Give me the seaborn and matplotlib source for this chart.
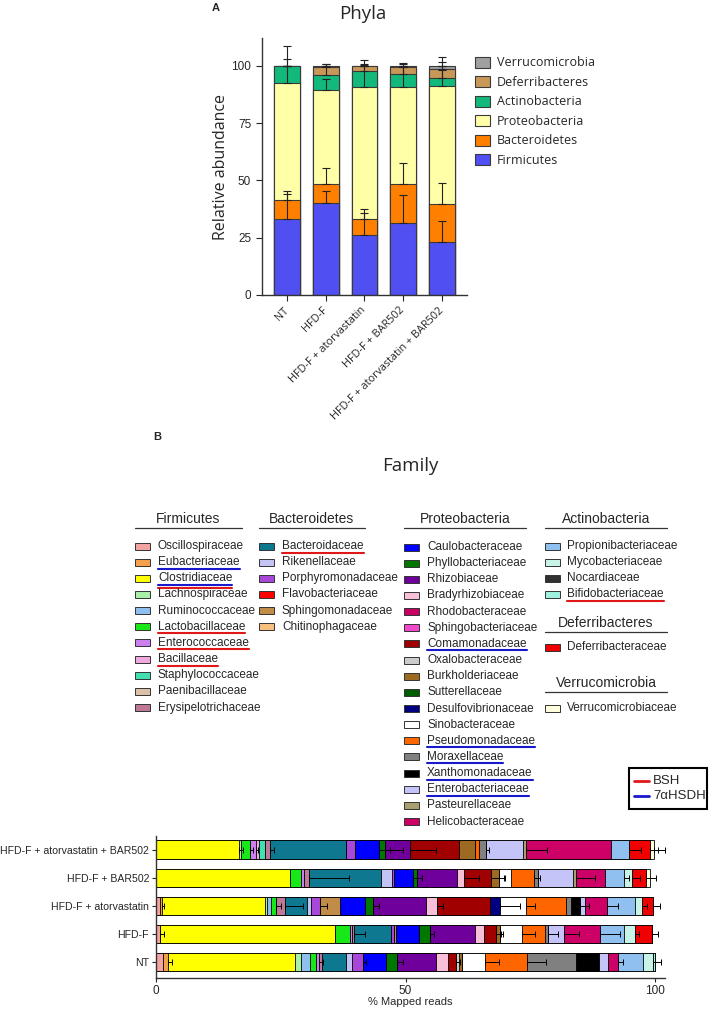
import numpy as np
import pandas as pd
import matplotlib.pyplot as plt
import seaborn as sns
from matplotlib.patches import Rectangle

# ---------------- Panel A: phyla ----------------
groups = ['NT', 'HFD-F', 'HFD-F + atorvastatin', 'HFD-F + BAR502', 'HFD-F + atorvastatin + BAR502']
phyla = ['Firmicutes', 'Bacteroidetes', 'Proteobacteria', 'Actinobacteria', 'Deferribacteres', 'Verrucomicrobia']
firmicutes = [33.0, 40.0, 26.2, 31.2, 23.0]
bacteroidetes = [8.4, 8.3, 6.9, 17.2, 16.7]
proteobacteria = [51.2, 41.1, 57.5, 42.4, 51.4]
actinobacteria = [7.3, 6.8, 7.2, 5.6, 3.7]
deferribacteres = [0.1, 3.4, 2.1, 3.2, 4.0]
verrucomicrobia = [0.0, 0.3, 0.0, 0.3, 1.1]
# upward SD bars drawn from the top of each segment
firmicutes_err = [12.5, 5.3, 11.3, 12.4, 9.3]
bacteroidetes_err = [2.5, 6.9, 2.5, 9.0, 9.3]
proteobacteria_err = [10.6, 4.8, 10.4, 8.8, 7.0]
actinobacteria_err = [8.7, 4.6, 4.9, 4.6, 6.9]
deferribacteres_err = [0.0, 1.2, 0.5, 1.5, 5.1]
verrucomicrobia_err = [0.0, 0.0, 0.0, 0.0, 0.0]
phyla_colors = ['#5050F2', '#FF8000', '#FFFFA8', '#12B97A', '#C89858', '#A0A0A0']

# ---------------- Panel B: families ----------------
families = ['Oscillospiraceae', 'Eubacteriaceae', 'Clostridiaceae', 'Lachnospiraceae', 'Ruminococcaceae',
            'Lactobacillaceae', 'Enterococcaceae', 'Bacillaceae', 'Staphylococcaceae', 'Paenibacillaceae',
            'Erysipelotrichaceae',
            'Bacteroidaceae', 'Rikenellaceae', 'Porphyromonadaceae', 'Flavobacteriaceae', 'Sphingomonadaceae',
            'Chitinophagaceae',
            'Caulobacteraceae', 'Phyllobacteriaceae', 'Rhizobiaceae', 'Bradyrhizobiaceae', 'Rhodobacteraceae',
            'Sphingobacteriaceae', 'Comamonadaceae', 'Oxalobacteraceae', 'Burkholderiaceae', 'Sutterellaceae',
            'Desulfovibrionaceae', 'Sinobacteraceae', 'Pseudomonadaceae', 'Moraxellaceae', 'Xanthomonadaceae',
            'Enterobacteriaceae', 'Pasteurellaceae', 'Helicobacteraceae',
            'Propionibacteriaceae', 'Mycobacteriaceae', 'Nocardiaceae', 'Bifidobacteriaceae',
            'Deferribacteraceae', 'Verrucomicrobiaceae']
family_colors = ['#F4A3A3', '#F5A04C', '#FFFF00', '#A8F0A8', '#8EBFF0', '#18E818', '#CC80F0', '#F0A8E0',
                 '#40E0B0', '#DCC0A8', '#C07898', '#0E7890', '#C4C4F4', '#A848D8', '#FF0000', '#C08C48',
                 '#F8C080', '#0000FF', '#007800', '#70009C', '#F8C0D8', '#C80064', '#F048C8', '#A00000',
                 '#CCCCCC', '#9C6A20', '#005C00', '#000080', '#FFFFFF', '#FF6600', '#808080', '#000000',
                 '#C4C4F8', '#A8A070', '#CC0066', '#90C0F0', '#C8F4E8', '#303030', '#A0F0E0', '#F00000',
                 '#FFFFE0']
bsh = ['Clostridiaceae', 'Lactobacillaceae', 'Enterococcaceae', 'Bacillaceae', 'Bacteroidaceae',
       'Bifidobacteriaceae']
hsdh = ['Eubacteriaceae', 'Clostridiaceae', 'Comamonadaceae', 'Pseudomonadaceae', 'Moraxellaceae',
        'Xanthomonadaceae', 'Enterobacteriaceae']

order_b = ['HFD-F + atorvastatin + BAR502', 'HFD-F + BAR502', 'HFD-F + atorvastatin', 'HFD-F', 'NT']

reads_atv_bar = {'Clostridiaceae': 16.7, 'Lachnospiraceae': 0.4, 'Lactobacillaceae': 1.8, 'Enterococcaceae': 1.2,
                 'Bacillaceae': 0.6, 'Staphylococcaceae': 1.2, 'Erysipelotrichaceae': 0.9, 'Bacteroidaceae': 15.2,
                 'Porphyromonadaceae': 1.8, 'Caulobacteraceae': 4.8, 'Phyllobacteriaceae': 1.2,
                 'Rhizobiaceae': 5.0, 'Comamonadaceae': 10.0, 'Burkholderiaceae': 3.2, 'Pseudomonadaceae': 0.8,
                 'Moraxellaceae': 1.3, 'Enterobacteriaceae': 7.5, 'Pasteurellaceae': 0.6,
                 'Helicobacteraceae': 17.0, 'Propionibacteriaceae': 3.5, 'Deferribacteraceae': 4.2,
                 'Verrucomicrobiaceae': 0.8}
reads_bar = {'Clostridiaceae': 26.8, 'Lactobacillaceae': 2.2, 'Enterococcaceae': 0.6, 'Erysipelotrichaceae': 1.0,
             'Bacteroidaceae': 14.4, 'Rikenellaceae': 2.2, 'Porphyromonadaceae': 0.4, 'Caulobacteraceae': 3.8,
             'Phyllobacteriaceae': 0.9, 'Rhizobiaceae': 8.1, 'Bradyrhizobiaceae': 1.3, 'Comamonadaceae': 5.5,
             'Burkholderiaceae': 1.5, 'Sinobacteraceae': 2.5, 'Pseudomonadaceae': 4.5, 'Moraxellaceae': 0.9,
             'Enterobacteriaceae': 7.0, 'Pasteurellaceae': 0.5, 'Helicobacteraceae': 5.9,
             'Propionibacteriaceae': 3.7, 'Mycobacteriaceae': 1.6, 'Deferribacteraceae': 2.9,
             'Verrucomicrobiaceae': 0.7}
reads_atv = {'Oscillospiraceae': 0.8, 'Eubacteriaceae': 0.4, 'Clostridiaceae': 20.6, 'Lachnospiraceae': 0.4,
             'Ruminococcaceae': 0.8, 'Lactobacillaceae': 1.1, 'Erysipelotrichaceae': 1.8, 'Bacteroidaceae': 4.4,
             'Rikenellaceae': 0.8, 'Porphyromonadaceae': 1.8, 'Sphingomonadaceae': 4.0,
             'Caulobacteraceae': 4.9, 'Phyllobacteriaceae': 1.7, 'Rhizobiaceae': 10.7, 'Bradyrhizobiaceae': 2.1,
             'Comamonadaceae': 10.6, 'Desulfovibrionaceae': 2.0, 'Sinobacteraceae': 5.3,
             'Pseudomonadaceae': 8.0, 'Moraxellaceae': 0.9, 'Xanthomonadaceae': 1.9, 'Enterobacteriaceae': 0.9,
             'Helicobacteraceae': 4.5, 'Propionibacteriaceae': 5.5, 'Mycobacteriaceae': 1.5,
             'Deferribacteraceae': 2.1}
reads_hfd = {'Oscillospiraceae': 0.8, 'Clostridiaceae': 35.1, 'Lactobacillaceae': 3.0, 'Enterococcaceae': 0.4,
             'Erysipelotrichaceae': 0.4, 'Bacteroidaceae': 7.3, 'Porphyromonadaceae': 0.7,
             'Sphingomonadaceae': 0.4, 'Caulobacteraceae': 4.7, 'Phyllobacteriaceae': 2.1, 'Rhizobiaceae': 9.1,
             'Bradyrhizobiaceae': 1.7, 'Comamonadaceae': 2.5, 'Burkholderiaceae': 0.7, 'Sinobacteraceae': 4.5,
             'Pseudomonadaceae': 4.5, 'Moraxellaceae': 0.7, 'Enterobacteriaceae': 3.2, 'Helicobacteraceae': 7.1,
             'Propionibacteriaceae': 4.9, 'Mycobacteriaceae': 2.1, 'Deferribacteraceae': 3.5}
reads_nt = {'Oscillospiraceae': 1.5, 'Eubacteriaceae': 0.9, 'Clostridiaceae': 25.5, 'Lachnospiraceae': 1.2,
            'Ruminococcaceae': 1.7, 'Lactobacillaceae': 1.3, 'Enterococcaceae': 0.6, 'Erysipelotrichaceae': 0.6,
            'Bacteroidaceae': 4.7, 'Rikenellaceae': 1.2, 'Porphyromonadaceae': 2.3, 'Caulobacteraceae': 4.6,
            'Phyllobacteriaceae': 2.1, 'Rhizobiaceae': 8.0, 'Bradyrhizobiaceae': 2.3, 'Comamonadaceae': 1.7,
            'Oxalobacteraceae': 0.5, 'Burkholderiaceae': 0.7, 'Sinobacteraceae': 4.5, 'Pseudomonadaceae': 8.4,
            'Moraxellaceae': 9.9, 'Xanthomonadaceae': 4.5, 'Enterobacteriaceae': 1.9, 'Helicobacteraceae': 1.9,
            'Propionibacteriaceae': 5.0, 'Mycobacteriaceae': 2.0, 'Bifidobacteriaceae': 0.4}

err_atv_bar = {'Clostridiaceae': 0.8, 'Lactobacillaceae': 0.6, 'Enterococcaceae': 0.4, 'Erysipelotrichaceae': 0.8,
               'Caulobacteraceae': 2.2, 'Phyllobacteriaceae': 3.6, 'Rhizobiaceae': 5.4, 'Moraxellaceae': 0.7,
               'Pasteurellaceae': 4.2, 'Propionibacteriaceae': 2.5, 'Deferribacteraceae': 1.6,
               'Verrucomicrobiaceae': 2.2}
err_bar = {'Erysipelotrichaceae': 8.0, 'Caulobacteraceae': 2.0, 'Bradyrhizobiaceae': 3.1, 'Comamonadaceae': 2.8,
           'Burkholderiaceae': 1.0, 'Pseudomonadaceae': 1.2, 'Pasteurellaceae': 3.9,
           'Propionibacteriaceae': 1.0, 'Mycobacteriaceae': 1.6, 'Deferribacteraceae': 2.0}
err_atv = {'Eubacteriaceae': 0.5, 'Lactobacillaceae': 1.0, 'Erysipelotrichaceae': 3.6, 'Porphyromonadaceae': 1.4,
           'Phyllobacteriaceae': 1.2, 'Bradyrhizobiaceae': 1.2, 'Desulfovibrionaceae': 4.0,
           'Sinobacteraceae': 1.8, 'Xanthomonadaceae': 1.7, 'Helicobacteraceae': 2.2, 'Mycobacteriaceae': 1.0,
           'Deferribacteraceae': 1.4}
err_hfd = {'Oscillospiraceae': 0.9, 'Erysipelotrichaceae': 2.1, 'Phyllobacteriaceae': 0.9, 'Comamonadaceae': 1.0,
           'Burkholderiaceae': 0.6, 'Sinobacteraceae': 2.6, 'Moraxellaceae': 2.0, 'Enterobacteriaceae': 2.9,
           'Helicobacteraceae': 4.0, 'Mycobacteriaceae': 0.8, 'Deferribacteraceae': 1.2}
err_nt = {'Eubacteriaceae': 0.9, 'Enterococcaceae': 0.7, 'Porphyromonadaceae': 0.6, 'Phyllobacteriaceae': 1.3,
          'Comamonadaceae': 0.8, 'Sinobacteraceae': 2.8, 'Pseudomonadaceae': 3.9, 'Helicobacteraceae': 1.0,
          'Mycobacteriaceae': 1.7}

reads = dict(zip(order_b, [reads_atv_bar, reads_bar, reads_atv, reads_hfd, reads_nt]))
errs = dict(zip(order_b, [err_atv_bar, err_bar, err_atv, err_hfd, err_nt]))

sns.set_style('ticks')
plt.rcParams['font.family'] = ['Liberation Sans', 'DejaVu Sans']
TITLE_FONT = ['Open Sans', 'DejaVu Sans']

fig = plt.figure(figsize=(7.09, 10.10), dpi=100)

# ---- panel A stacked bars (cumulative layers drawn back to front) ----
axa = fig.add_axes([0.369, 0.708, 0.289, 0.254])
phyla_vals = np.array([firmicutes, bacteroidetes, proteobacteria, actinobacteria, deferribacteres, verrucomicrobia])
phyla_errs = np.array([firmicutes_err, bacteroidetes_err, proteobacteria_err, actinobacteria_err,
                       deferribacteres_err, verrucomicrobia_err])
cum_a = np.cumsum(phyla_vals, axis=0)
df_a = pd.DataFrame([(g, p, cum_a[i, j]) for i, p in enumerate(phyla) for j, g in enumerate(groups)],
                    columns=['group', 'phylum', 'cum'])
for i in reversed(range(len(phyla))):
    sns.barplot(data=df_a[df_a.phylum == phyla[i]], x='group', y='cum', order=groups, color=phyla_colors[i],
                saturation=1, width=0.66, edgecolor='#3a3a3a', linewidth=0.8, errorbar=None, ax=axa)
for i in range(len(phyla)):
    axa.errorbar(np.arange(len(groups)), cum_a[i], yerr=[np.zeros(len(groups)), phyla_errs[i]], fmt='none',
                 ecolor='#222222', elinewidth=0.8, capsize=3, capthick=0.8, zorder=5)
axa.set_xlim(-0.66, 4.64)
axa.set_ylim(0, 112)
axa.set_yticks([0, 25, 50, 75, 100])
axa.set_xlabel('')
axa.set_ylabel('Relative abundance', fontsize=11.5, family=TITLE_FONT)
axa.yaxis.set_label_coords(-0.16, 0.5)
axa.set_xticks(range(len(groups)))
axa.set_xticklabels(groups, rotation=45, ha='right', va='center', rotation_mode='anchor', fontsize=7.8,
                    family=TITLE_FONT)
axa.tick_params(axis='x', pad=6, length=4, width=0.8)
axa.tick_params(axis='y', labelsize=8.5, length=4, width=0.8)
for s in ['left', 'bottom']:
    axa.spines[s].set_linewidth(1.0)
    axa.spines[s].set_color('#333333')
sns.despine(ax=axa)

# ---- panel B horizontal stacked bars ----
axb = fig.add_axes([0.220, 0.0317, 0.718, 0.141])
rows = []
for g in order_b:
    vals = np.array([reads[g].get(f, 0.0) for f in families])
    for f, c in zip(families, np.cumsum(vals)):
        rows.append((g, f, c))
df_b = pd.DataFrame(rows, columns=['group', 'family', 'cum'])
for k in reversed(range(len(families))):
    sns.barplot(data=df_b[df_b.family == families[k]], x='cum', y='group', order=order_b, orient='h',
                color=family_colors[k], saturation=1, width=0.65, edgecolor='black', linewidth=0.6,
                errorbar=None, ax=axb)
for yi, g in enumerate(order_b):
    sub = df_b[df_b.group == g].set_index('family')['cum']
    for f, e in errs[g].items():
        axb.errorbar(sub[f], yi, xerr=[[0], [e]], fmt='none', ecolor='black', elinewidth=0.7,
                     capsize=2, capthick=0.7, zorder=5)
axb.set_xlim(0, 102)
axb.set_ylim(4.58, -0.5)
axb.set_xticks([0, 50, 100])
axb.set_xlabel('% Mapped reads', fontsize=8, labelpad=0)
axb.set_ylabel('')
axb.tick_params(axis='x', labelsize=8.5, length=3, width=0.8, pad=2)
axb.tick_params(axis='y', labelsize=7.6, length=3, width=0.8, pad=2)
for s in ['left', 'bottom']:
    axb.spines[s].set_linewidth(1.0)
    axb.spines[s].set_color('#333333')
sns.despine(ax=axb)

# ---- overlay for titles and the family legend (pixel coordinates) ----
lay = fig.add_axes([0, 0, 1, 1])
lay.set_xlim(0, 709)
lay.set_ylim(1010, 0)
lay.axis('off')

lay.text(216, 8, 'A', fontsize=8, fontweight='bold', ha='center', va='center')
lay.text(363, 14, 'Phyla', fontsize=13.5, family=TITLE_FONT, ha='center', va='center')
lay.text(157, 437, 'B', fontsize=8, fontweight='bold', ha='center', va='center')
lay.text(410, 466, 'Family', fontsize=13.5, family=TITLE_FONT, ha='center', va='center')

for r, i in enumerate(reversed(range(len(phyla)))):
    y = 62.7 + r * 19.5
    lay.add_patch(Rectangle((475, y - 6), 15, 11, facecolor=phyla_colors[i], edgecolor='#3a3a3a', lw=0.8))
    lay.text(497, y, phyla[i], fontsize=9, family=TITLE_FONT, va='center')

columns = [('Firmicutes', families[0:11], 135, 158, 242, 519, 546),
           ('Bacteroidetes', families[11:17], 259, 282, 365, 519, 546),
           ('Proteobacteria', families[17:35], 404, 427, 526, 519, 547),
           ('Actinobacteria', families[35:39], 545, 567, 667, 519, 546),
           ('Deferribacteres', families[39:40], 545, 567, 667, 623, 647),
           ('Verrucomicrobia', families[40:41], 545, 567, 667, 683, 708)]
entries = []
for head, fams, xp, xt, xr, yh, y0 in columns:
    lay.text((xp + xr) / 2, yh, head, fontsize=10, ha='center', va='center')
    lay.plot([xp, xr], [yh + 8.5, yh + 8.5], color='#333333', lw=0.9)
    for r, f in enumerate(fams):
        y = y0 + r * 16.15
        lay.add_patch(Rectangle((xp, y - 3.5), 15, 7, facecolor=family_colors[families.index(f)],
                                edgecolor='#333333', lw=0.7))
        t = lay.text(xt, y, f, fontsize=8.5, va='center')
        entries.append((f, t, y))

fig.canvas.draw()
renderer = fig.canvas.get_renderer()
inv = lay.transData.inverted()
for f, t, y in entries:
    bb = t.get_window_extent(renderer)
    x0 = inv.transform((bb.x0, bb.y0))[0]
    x1 = inv.transform((bb.x1, bb.y0))[0]
    if f in hsdh:
        lay.plot([x0, x1], [y + 6.5, y + 6.5], color='#1818CC', lw=1.5)
    if f in bsh:
        lay.plot([x0, x1], [y + (10 if f in hsdh else 6.5)] * 2, color='#E01818', lw=1.5)

# BSH / 7aHSDH key
lay.add_patch(Rectangle((629, 768), 78, 41, facecolor='white', edgecolor='black', lw=1.5))
lay.plot([634, 649], [780.5, 780.5], color='#E01818', lw=2)
lay.text(653, 780.5, 'BSH', fontsize=9.5, va='center')
lay.plot([634, 649], [796, 796], color='#1818CC', lw=2)
lay.text(653, 796, '7αHSDH', fontsize=9.5, va='center')

fig.savefig('out.png', dpi=100)
